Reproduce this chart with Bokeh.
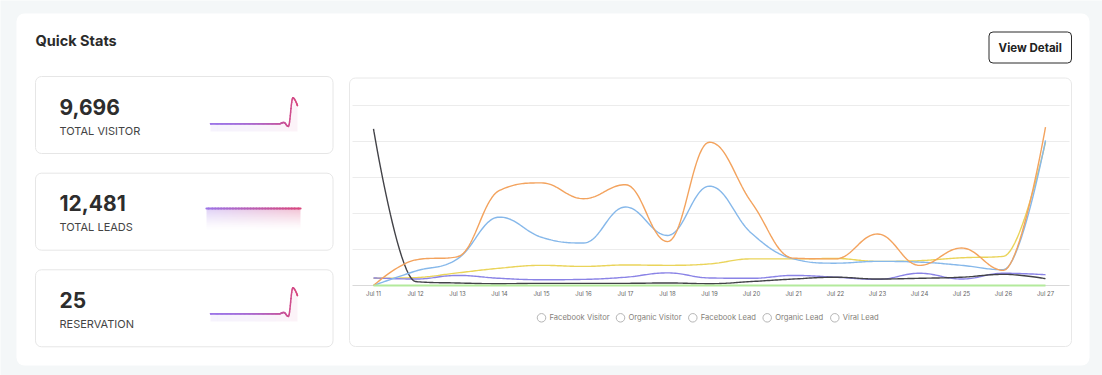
import numpy as np
from bokeh.plotting import figure
from bokeh.models import Range1d
from bokeh.core.properties import value
from bokeh.embed import file_html
from bokeh.resources import INLINE

# ---------------- data ----------------
days = ["Jul 11", "Jul 12", "Jul 13", "Jul 14", "Jul 15", "Jul 16", "Jul 17", "Jul 18",
        "Jul 19", "Jul 20", "Jul 21", "Jul 22", "Jul 23", "Jul 24", "Jul 25", "Jul 26", "Jul 27"]
facebook_visitor = [0, 40, 74, 190, 134, 118, 218, 139, 276, 145, 74, 62, 67, 65, 56, 44, 403]
organic_visitor = [0, 71, 80, 264, 285, 241, 280, 122, 398, 231, 76, 74, 143, 56, 104, 42, 440]
facebook_lead = [20, 22, 35, 48, 56, 53, 57, 56, 60, 74, 74, 75, 67, 69, 77, 81, 398]
organic_lead = [21, 18, 28, 20, 16, 17, 23, 35, 21, 20, 28, 23, 17, 34, 18, 34, 30]
viral_lead = [435, 11, 7, 5, 6, 6, 6, 7, 5, 11, 18, 23, 18, 20, 23, 31, 19]
reservation = [0, 0, 0, 0, 0, 0, 0, 0, 0, 0, 0, 0, 0, 0, 0, 0, 0]
grid_values = [100, 200, 300, 400, 500]

legend_names = ["Facebook Visitor", "Organic Visitor", "Facebook Lead", "Organic Lead", "Viral Lead"]

card_values = ["9,696", "12,481", "25"]
card_labels = ["TOTAL VISITOR", "TOTAL LEADS", "RESERVATION"]
visitor_spark = [0, 0, 0, 0, 0, 0, 0, 0, 0, 0, 0, 0, 0, 0, 0, 0, 0.05, -0.1, 1.0, 0.7]
leads_spark = [1, 1, 1, 1, 1, 1, 1, 1, 1, 1, 1, 1, 1, 1, 1, 1, 1]
reservation_spark = [0, 0, 0, 0, 0, 0, 0, 0, 0, 0, 0, 0, 0, 0, 0, 0, 0.05, -0.1, 1.0, 0.7]

# ---------------- styling ----------------
FONT = "Inter"
PAGE_BG = "#f4f7f8"
series_styles = [  # (values, color, width) in draw order
    (facebook_lead, "#ead45a", 1.4),
    (organic_lead, "#8a83e6", 1.4),
    (viral_lead, "#434348", 1.4),
    (facebook_visitor, "#86b8ea", 1.4),
    (organic_visitor, "#f3a35e", 1.4),
    (reservation, "#b3ea9c", 2.2),
]

# canvas in page pixels
PX0, PX1, PY0, PY1 = 0, 1102, 0, 375
W, H = PX1 - PX0, PY1 - PY0


def Y(py):
    return -py


def xr(pa, pb, da, db):
    k = (db - da) / (pb - pa)
    return Range1d(start=da + (PX0 - pa) * k, end=da + (PX1 - pa) * k)


def yr(pa, pb, da, db):
    k = (db - da) / (pb - pa)
    return Range1d(start=da + (PY1 - pa) * k, end=da + (PY0 - pa) * k)


def spline(xs, ys, n=20):
    xs = [float(v) for v in xs]
    ys = [float(v) for v in ys]
    N = len(xs)
    L = [None] * N
    R = [None] * N
    for i in range(N):
        px, py = xs[i], ys[i]
        if 0 < i < N - 1:
            lx, ly = xs[i - 1], ys[i - 1]
            nx, ny = xs[i + 1], ys[i + 1]
            lcx, lcy = (1.5 * px + lx) / 2.5, (1.5 * py + ly) / 2.5
            rcx, rcy = (1.5 * px + nx) / 2.5, (1.5 * py + ny) / 2.5
            corr = 0.0
            if rcx != lcx:
                corr = (rcy - lcy) * (rcx - px) / (rcx - lcx) + py - rcy
            lcy += corr
            rcy += corr
            if lcy > ly and lcy > py:
                lcy = max(ly, py); rcy = 2 * py - lcy
            elif lcy < ly and lcy < py:
                lcy = min(ly, py); rcy = 2 * py - lcy
            if rcy > ny and rcy > py:
                rcy = max(ny, py); lcy = 2 * py - rcy
            elif rcy < ny and rcy < py:
                rcy = min(ny, py); lcy = 2 * py - rcy
            L[i] = (lcx, lcy)
            R[i] = (rcx, rcy)
        else:
            L[i] = R[i] = (px, py)
    ox, oy = [xs[0]], [ys[0]]
    t = np.linspace(0, 1, n + 1)[1:]
    for i in range(1, N):
        p0 = np.array([xs[i - 1], ys[i - 1]])
        p1 = np.array(R[i - 1])
        p2 = np.array(L[i])
        p3 = np.array([xs[i], ys[i]])
        for tt in t:
            q = ((1 - tt) ** 3) * p0 + 3 * ((1 - tt) ** 2) * tt * p1 + 3 * (1 - tt) * tt * tt * p2 + tt ** 3 * p3
            ox.append(q[0]); oy.append(q[1])
    return ox, oy


def hex_rgb(c):
    return [int(c[i:i + 2], 16) for i in (1, 3, 5)]


def lerp_color(c0, c1, f):
    a, b = hex_rgb(c0), hex_rgb(c1)
    return "#%02x%02x%02x" % tuple(int(round(a[j] + (b[j] - a[j]) * f)) for j in range(3))


p = figure(width=W, height=H, output_backend="svg", toolbar_location=None,
           x_range=Range1d(PX0, PX1), y_range=Range1d(-PY1, -PY0),
           x_axis_location=None, y_axis_location=None, min_border=0)
p.background_fill_color = PAGE_BG
p.border_fill_color = PAGE_BG
p.outline_line_color = None
p.grid.visible = False

# chart data ranges: Jul 11 at px 373, Jul 27 at px 1045; value 0 at py 285, 500 at py 105
p.extra_x_ranges["d"] = xr(373, 1045, 0, len(days) - 1)
p.extra_y_ranges["d"] = yr(285, 105, 0, 500)
# sparkline ranges
p.extra_x_ranges["s1"] = xr(210, 297, 0, len(visitor_spark) - 1)
p.extra_y_ranges["s1"] = yr(123.3, 97.3, 0, 1)
p.extra_x_ranges["s2"] = xr(206, 300, 0, len(leads_spark) - 1)
p.extra_y_ranges["s2"] = yr(230, 208, 0, 1)
p.extra_x_ranges["s3"] = xr(210, 297, 0, len(reservation_spark) - 1)
p.extra_y_ranges["s3"] = yr(313.3, 287.3, 0, 1)

# white panel
p.quad(left=16, right=1089, top=Y(13), bottom=Y(365), fill_color="white", line_color=None, border_radius=8)

# title + button
p.text(x=[35], y=[Y(40)], text=["Quick Stats"], text_font=value(FONT), text_font_size="14.5px",
       text_font_style="bold", text_color="#2b2b2b", text_baseline="middle", text_align="left")
p.quad(left=988.5, right=1071, top=Y(31.5), bottom=Y(62.5), fill_color="white",
       line_color="#2b2b2b", line_width=1, border_radius=4)
p.text(x=[1029.7], y=[Y(47)], text=["View Detail"], text_font=value(FONT), text_font_size="11.5px",
       text_font_style="bold", text_color="#222222", text_baseline="middle", text_align="center")

# cards
card_tops = [76, 172.7, 269.3]
card_h = 77
for i in range(3):
    top = card_tops[i]
    p.quad(left=35, right=332.5, top=Y(top), bottom=Y(top + card_h), fill_color="white",
           line_color="#e6e6e6", line_width=1, border_radius=6)
    p.text(x=[59], y=[Y(top + 30)], text=[card_values[i]], text_font=value(FONT), text_font_size="21px",
           text_font_style="bold", text_color="#2d2d2d", text_baseline="middle", text_align="left")
    p.text(x=[59], y=[Y(top + 54)], text=[card_labels[i]], text_font=value(FONT), text_font_size="11px",
           text_color="#444444", text_baseline="middle", text_align="left")

PURPLE, PINK = "#9d74e6", "#d9467c"

# spike sparklines (cards 1 and 3)
for vals, rn in ((visitor_spark, "s1"), (reservation_spark, "s3")):
    sx, sy = spline(list(range(len(vals))), vals, n=12)
    sx = np.array(sx); sy = np.array(sy)
    n = len(vals) - 1
    chunks = 12
    idx = np.linspace(0, len(sx) - 1, chunks + 1).astype(int)
    for c in range(chunks):
        a, b = idx[c], idx[c + 1] + 1
        col = lerp_color("#c9b3f0", "#f2b8cc", (sx[a] / n) ** 2)
        p.varea(x=sx[a:b], y1=sy[a:b], y2=np.full(b - a, -0.3), fill_color=col, fill_alpha=0.16,
                x_range_name=rn, y_range_name=rn)
    cols = [lerp_color(PURPLE, PINK, (xx / n) ** 2) for xx in sx[:-1]]
    p.segment(x0=sx[:-1], y0=sy[:-1], x1=sx[1:], y1=sy[1:], line_color=cols, line_width=1.5,
              line_cap="round", x_range_name=rn, y_range_name=rn)

# flat sparkline with gradient area (card 2) as an RGBA image below the line
n2 = len(leads_spark) - 1
rows_n, cols_n = 22, 94
img = np.zeros((rows_n, cols_n, 4), dtype=np.uint8)
c0, c1 = np.array(hex_rgb(PURPLE), dtype=float), np.array(hex_rgb(PINK), dtype=float)
for r in range(rows_n):
    a = 0.34 * ((r + 0.5) / rows_n) ** 1.4  # row 0 at bottom
    for c in range(cols_n):
        f = (c + 0.5) / cols_n
        rgb = c0 + (c1 - c0) * f
        img[r, c, :3] = np.round(rgb).astype(np.uint8)
        img[r, c, 3] = int(round(255 * a))
level = float(min(leads_spark))
p.image_rgba(image=[img.view(dtype=np.uint32).reshape((rows_n, cols_n))], x=0, y=0, dw=n2, dh=level,
             x_range_name="s2", y_range_name="s2")
lx, ly = spline(list(range(len(leads_spark))), leads_spark, n=2)
lx = np.array(lx); ly = np.array(ly)
p.segment(x0=lx[:-1], y0=ly[:-1], x1=lx[1:], y1=ly[1:],
          line_color=[lerp_color(PURPLE, PINK, v / n2) for v in lx[:-1]], line_width=2.2,
          line_cap="round", x_range_name="s2", y_range_name="s2")

# chart box
p.quad(left=349, right=1071, top=Y(77.5), bottom=Y(346), fill_color="white",
       line_color="#e8e8e8", line_width=1, border_radius=6)

# grid lines and baseline (chart coordinates)
xl = (352 - 373) / 42.0
xr_ = (1069 - 373) / 42.0
p.multi_line(xs=[[xl, xr_] for _ in grid_values], ys=[[g, g] for g in grid_values],
             line_color="#ececec", line_width=1, x_range_name="d", y_range_name="d")
p.line(x=[xl, xr_], y=[0, 0], line_color="#d9d9d9", line_width=1, x_range_name="d", y_range_name="d")

# x labels
p.text(x=list(range(len(days))), y=[0] * len(days), text=days, y_offset=7.5,
       text_font=value(FONT), text_font_size="6px", text_color="#666666",
       text_align="center", text_baseline="middle", x_range_name="d", y_range_name="d")

# series
xs_idx = list(range(len(days)))
for vals, color, lw in series_styles:
    sx, sy = spline(xs_idx, vals, n=24)
    p.line(x=sx, y=sy, line_color=color, line_width=lw, x_range_name="d", y_range_name="d")

# legend
legend_x = [541, 620, 692.3, 766.7, 834.3]
p.scatter(x=legend_x, y=[Y(317.3)] * 5, marker="circle", size=8.5, fill_color="white",
          line_color="#b5b5b5", line_width=1)
p.text(x=[v + 8 for v in legend_x], y=[Y(317.3)] * 5, text=legend_names, text_font=value(FONT),
       text_font_size="7.6px", text_color="#857f7a", text_baseline="middle", text_align="left")

open("out.html", "w").write(file_html(p, INLINE))
